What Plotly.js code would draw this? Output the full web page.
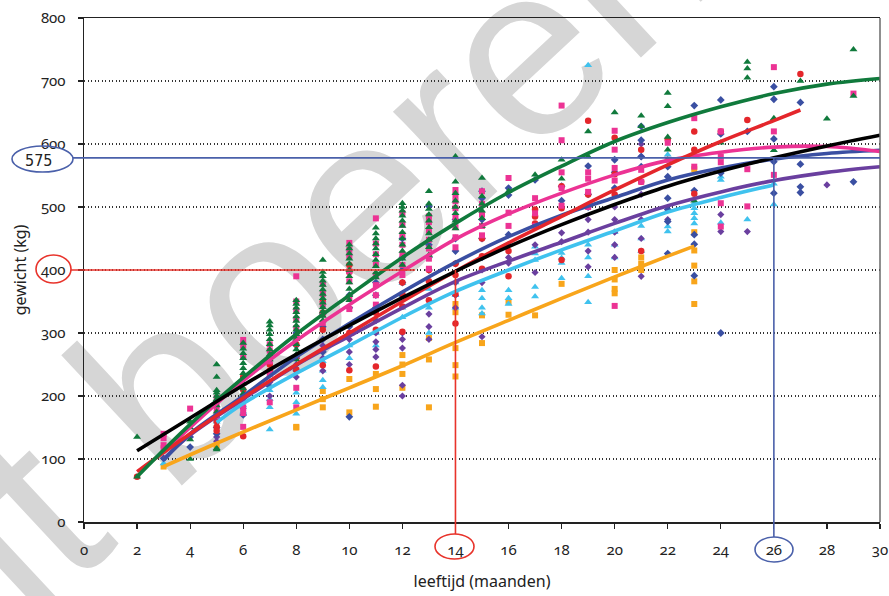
<!DOCTYPE html>
<html>
<head>
<meta charset="utf-8">
<script src="https://cdn.plot.ly/plotly-3.0.1.min.js"></script>
<style>
html,body{margin:0;padding:0;background:#fff;}
#chart{width:889px;height:596px;}
.xtick text,.ytick text{font-feature-settings:"onum" 1;}
</style>
</head>
<body>
<div id="chart"></div>
<script>
// ---- Measured points: [month, [weights in kg]] per group ----
const greenPts = [[2,[135,72]],[4,[159,150,131,100]],[5,[250,230,209,205,200,195,185,175,117,115]],
  [6,[284,275,268,260,252,244,236,228,220,212,204,198]],[7,[318,312,305,298,290,282,274,266,258]],
  [8,[352,346,340,333,326,319,312,305,298,290,282,274,266,258]],[9,[416,397,390,383,376,369,362,355,348,341,334,327,320]],
  [10,[440,434,426,418,410,400,390,380,370,360,352]],[11,[467,458,450,442,434,425,416,406,396,388]],
  [12,[506,500,494,486,478,470,460,450,440,430,418,408]],[13,[525,505,497,488,478,468,458,448,436,424]],
  [14,[580,540,522,510,500,490,478,466]],[15,[546,517,505,494,482,470]],[16,[525]],[17,[551]],[18,[575,545]],
  [19,[620,580]],[20,[650]],[21,[645,628]],[22,[681,660,611,591,575]],[23,[510]],[24,[602]],[25,[730,720,705]],
  [26,[641,590]],[27,[700]],[28,[640]],[29,[750,676]]];
const pinkPts = [[3,[140,133,122,117]],[4,[180]],[5,[197,188,178,168]],[6,[289,280,262,193,182,173,151]],
  [7,[282,272,255,235,190]],[8,[390,350,336,322,308,294,213,182]],[9,[378,362,346,330,316]],
  [10,[443,432,422,398,382,356,338]],[11,[482,442,425,408,392,376,360,345]],[12,[490,472,456,440,424,408,392]],
  [13,[485,476,462,448,434,418,402]],[14,[527,518,509,498,484,468,452,436]],[15,[525,505,488,470,455]],
  [16,[546,491,470]],[17,[514,490,470]],[18,[661,606,555,530,502]],[19,[555,545,524,500]],[20,[621,591,562,542,343]],
  [21,[559,540]],[22,[602,575]],[23,[641,564]],[24,[620,580,571,506,469]],[25,[560,501]],[26,[722,620,551]],[29,[680]]];
const redPts = [[2,[72]],[5,[160,151,145]],[6,[230,210,136]],[7,[250,240]],[8,[282,262,242]],[9,[350,332,305,249]],
  [10,[408,397,300,241]],[11,[332,305,247]],[12,[380,362,342,302]],[13,[400,382,352]],[14,[410,392,362,315]],
  [15,[450,422,402]],[16,[430,390]],[17,[496,485,474]],[18,[533,498,416]],[19,[637,520]],[20,[610,552,520]],
  [21,[591,540,430]],[22,[607]],[23,[620,591,521]],[24,[620]],[25,[638]],[27,[711]]];
const bluePts = [[3,[101]],[4,[135,119]],[5,[165,150,140]],[6,[220,200,170]],[7,[260,240,215]],[8,[300,280,260,240]],
  [9,[330,310,290,270]],[10,[360,340,310,167]],[11,[380,360,340,320]],[12,[450,420,400,380,360]],[13,[501,440,420,400]],
  [14,[480,450,430,410]],[15,[525,514,480,450,420]],[16,[530,519,456,440]],[17,[543,470]],[18,[533,510]],
  [19,[565,520,500]],[20,[575,555,530]],[21,[628,606,580,564]],[22,[564,548,514,496,477,426]],
  [23,[661,526,456,441,391]],[24,[670,616,554,300]],[25,[620]],[26,[691,671,608,572,522]],[27,[666,568,532,523]],[29,[540]]];
const purplePts = [[5,[135,128]],[6,[190,180]],[7,[222,200]],[8,[250,230]],[9,[280,260,240]],[10,[290,270,250]],
  [11,[300,286,274,262]],[12,[300,290,276,217,200]],[13,[330,310,290]],[14,[380,360,340]],[15,[400,380,294]],
  [16,[420,411]],[17,[440,396]],[18,[459,445]],[19,[501,480,460,430,405]],[20,[500,480,460,440,420]],
  [21,[600,580,520,480,450,390]],[22,[480]],[24,[488,461]],[25,[461]],[28,[535]]];
const lightPts = [[3,[93]],[5,[165,159]],[6,[185,175]],[7,[209,195,182,147]],[8,[205,190,172]],[9,[273,255,240,225,214]],
  [10,[300,280,260]],[11,[320,300,280]],[12,[379,360,340,325]],[13,[370,340,300]],[14,[380,360,340]],
  [15,[368,355,340,331]],[16,[368,355,346]],[17,[437,426,416,373,358]],[18,[427,419,411,387]],
  [19,[725,440,420,390,349]],[20,[460,440,420]],[21,[470,450,430]],[22,[583,469,461]],[23,[506,498,490,482,474]],
  [24,[548,543,475]],[25,[480]],[26,[537,504]]];
const orangePts = [[3,[88]],[5,[122]],[8,[151,150]],[9,[208,195,182]],[10,[227,174]],[11,[235,211,183]],
  [12,[265,250,235,213]],[13,[292,258,182]],[14,[346,333,276,249,231]],[15,[328,284]],[16,[349,329]],[17,[328]],
  [18,[378]],[20,[400,385,370,363]],[21,[420,410,400]],[23,[560,460,431,407,382,346]]];

// ---- Growth curves ----
const greenCurveX = [2,4,6,8,10,12,14,16,18,20,22,24,26,28,30];
const greenCurveY = [72,155,229,298,360,420,474,523,565,604,634,659,680,695,704];
const pinkCurveX = [3,4,6,8,10,12,14,16,18,20,22,24,26,28,30];
const pinkCurveY = [110,150,224,288,345,398,449,489,522,551,574,587,595,596,588];
const redCurveX = [2,4,6,8,10,12,14,16,18,20,22,24,26,27];
const redCurveY = [80,140,197,250,300,350,398,443,485,527,567,604,637,654];
const blueCurveX = [3,4,6,8,10,12,14,16,18,20,22,24,26,28,30];
const blueCurveY = [98,140,200,262,315,365,412,453,487,515,543,562,576,585,590];
const purpleCurveX = [3,4,6,8,10,12,14,16,18,20,22,24,26,28,30];
const purpleCurveY = [100,138,195,249,295,340,382,414,444,474,502,524,542,555,564];
const lightCurveX = [5,6,8,10,12,14,16,18,20,22,24,26];
const lightCurveY = [158,188,236,280,325,366,400,432,462,492,515,535];
const orangeCurveX = [3,5,8,10,12,14,16,18,20,22,23];
const orangeCurveY = [88,125,178,213,248,285,320,355,389,422,438];
const blackCurveX = [2,4,6,8,10,12,14,16,18,20,22,24,26,28,30];
const blackCurveY = [113,165,217,266,312,356,398,437,472,504,533,557,578,597,614];

// ---- Axis ticks and reading lines ----
const xTicks = [0,2,4,6,8,10,12,14,16,18,20,22,24,26,28,30];
const yTicks = [0,100,200,300,400,500,600,700,800];
const readAge = [14, 26];
const readKg = [400, 578];
const readLabel = '575';

const C = {green:'#107a3c', pink:'#ec3394', red:'#e4262b', blue:'#3a4fa2', purple:'#6a3f9f',
           light:'#3fc2ee', orange:'#f8a51b', black:'#000000', refBlue:'#4a60aa', refRed:'#e8332b'};

function flat(pts){ const x=[],y=[]; pts.forEach(([m,v])=>v.forEach(w=>{x.push(m);y.push(w);})); return {x,y}; }
function pts(p, color, symbol, size){ const f=flat(p); return {type:'scatter', mode:'markers', x:f.x, y:f.y,
  marker:{color, symbol, size, line:{width:0}}, showlegend:false, hoverinfo:'skip'}; }
function curve(x, y, color){ return {type:'scatter', mode:'lines', x, y, line:{color, width:3.6, shape:'spline', smoothing:1},
  showlegend:false, hoverinfo:'skip'}; }

const traces = [
  pts(orangePts, C.orange, 'square', 6),
  pts(lightPts, C.light, 'triangle-up', 7),
  pts(purplePts, C.purple, 'diamond', 5.5),
  pts(bluePts, C.blue, 'diamond', 6),
  pts(redPts, C.red, 'circle', 6.5),
  pts(pinkPts, C.pink, 'square', 6),
  pts(greenPts, C.green, 'triangle-up', 7),
  curve(orangeCurveX, orangeCurveY, C.orange),
  curve(lightCurveX, lightCurveY, C.light),
  curve(purpleCurveX, purpleCurveY, C.purple),
  curve(blueCurveX, blueCurveY, C.blue),
  curve(pinkCurveX, pinkCurveY, C.pink),
  curve(redCurveX, redCurveY, C.red),
  curve(greenCurveX, greenCurveY, C.green),
  curve(blackCurveX, blackCurveY, C.black)
];

const W = 889, H = 596, M = {l:84, r:9, t:18, b:74};
const PW = W - M.l - M.r, PH = H - M.t - M.b;
const px = p => (p - M.l) / PW;      // pixel x -> paper
const py = p => (H - M.b - p) / PH;  // pixel y -> paper
const ax = v => v / 30, ay = v => v / 800;

function ellipse(x0,x1,y0,y1,color){ return {type:'circle', xref:'paper', yref:'paper', x0:px(x0), x1:px(x1),
  y0:py(y1), y1:py(y0), line:{color, width:1.6}, fillcolor:'rgba(0,0,0,0)', layer:'above'}; }
function seg(x0,y0,x1,y1,color,w){ return {type:'line', xref:'paper', yref:'paper', x0, y0, x1, y1,
  line:{color, width:w||1.6}, layer:'above'}; }

const shapes = [
  // watermark (drawn below everything)
  {type:'rect', xref:'paper', yref:'paper', x0:px(275), x1:px(277), y0:py(251), y1:py(249),
   line:{width:0, color:'rgba(0,0,0,0)'}, fillcolor:'rgba(0,0,0,0)', layer:'below',
   label:{text:'nt boeren', textangle:-43, textposition:'middle center', xanchor:'center', yanchor:'middle',
          font:{family:'Liberation Sans, Arial, sans-serif', size:245, color:'#d6d6d6'}}},
  // right frame line
  seg(1, 0, 1, 1, '#6a6a6a', 1.5),
  // reading lines
  seg(px(71), ay(readKg[0]), px(415), ay(readKg[0]), C.refRed),
  seg(ax(readAge[0]), ay(readKg[0]), ax(readAge[0]), py(534), C.refRed),
  seg(px(73), ay(readKg[1]), 1, ay(readKg[1]), C.refBlue),
  seg(ax(readAge[1]), ay(readKg[1]), ax(readAge[1]), py(537), C.refBlue),
  ellipse(12, 73, 146, 172, C.refBlue),
  ellipse(36, 71, 255, 283, C.refRed),
  ellipse(435, 474, 534, 559, C.refRed),
  ellipse(755, 793, 537, 562, C.refBlue)
];

const tickFont = {family:'Noto Sans, Open Sans, sans-serif', size:15, color:'#222'};
const layout = {
  width:W, height:H, margin:M, paper_bgcolor:'#ffffff', plot_bgcolor:'rgba(0,0,0,0)',
  showlegend:false,
  xaxis:{range:[0,30], tickvals:xTicks, ticktext:xTicks.map(String), ticks:'outside', ticklen:5, tickwidth:1.2,
    tickcolor:'#222', showline:true, linecolor:'#222', linewidth:1.5, mirror:true, showgrid:false, zeroline:false,
    tickfont:tickFont, ticklabelstandoff:8,
    title:{text:'leeftijd (maanden)', standoff:18, font:{family:'Noto Sans, Open Sans, sans-serif', size:16, color:'#222'}}},
  yaxis:{range:[0,800], tickvals:yTicks, ticktext:yTicks.map(String), ticks:'outside', ticklen:5, tickwidth:1.2,
    tickcolor:'#222', showline:true, linecolor:'#222', linewidth:1.5, showgrid:true, gridcolor:'#333',
    griddash:'1px,2.5px', gridwidth:1.2, zeroline:false, tickfont:tickFont, ticklabelstandoff:9,
    title:{text:'gewicht (kg)', standoff:10, font:{family:'Noto Sans, Open Sans, sans-serif', size:16, color:'#222'}}},
  shapes,
  annotations:[
    {xref:'paper', yref:'paper', x:px(38), y:py(160), text:readLabel, showarrow:false, xanchor:'center', yanchor:'middle',
     font:{family:'DejaVu Sans Condensed, Liberation Sans Narrow, Liberation Sans, sans-serif', size:16, color:'#222'}}
  ]
};

Plotly.newPlot('chart', traces, layout, {staticPlot:true, displayModeBar:false});
</script>
</body>
</html>
